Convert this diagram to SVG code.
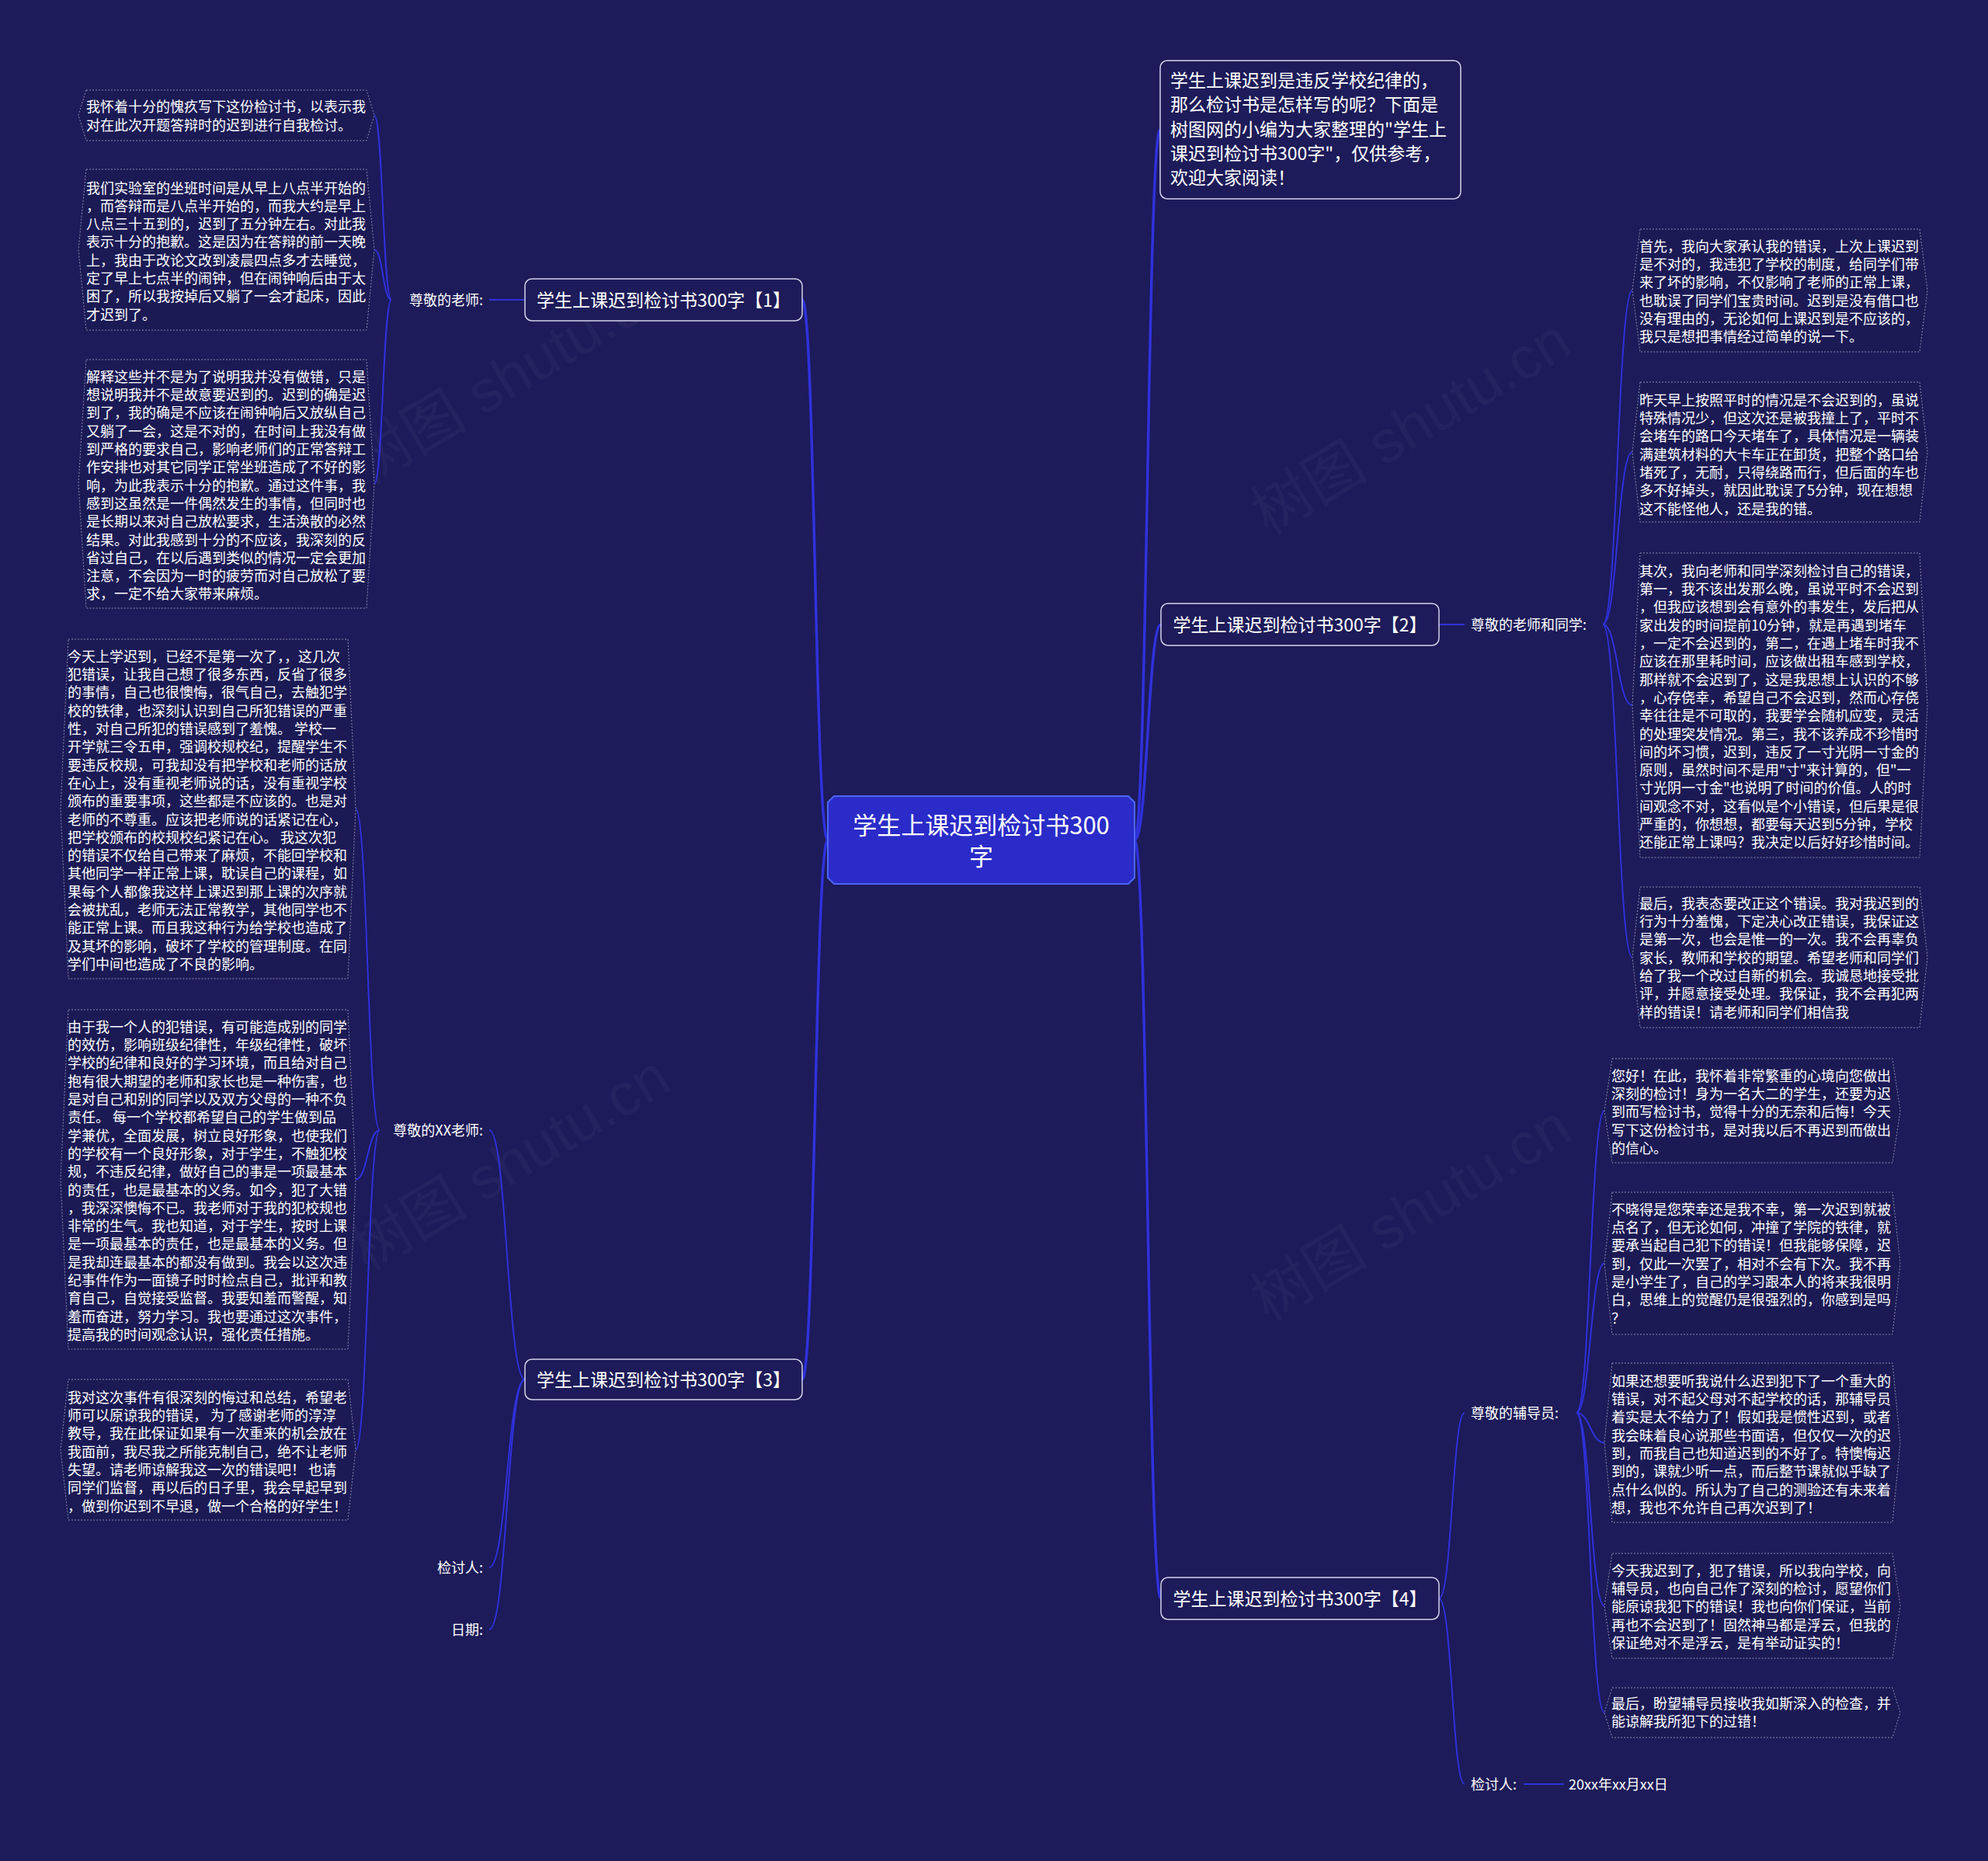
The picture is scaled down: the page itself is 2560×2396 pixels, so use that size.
<svg xmlns="http://www.w3.org/2000/svg" width="2560" height="2396" viewBox="0 0 2560 2396">
<defs>
<style>
.bg{fill:#1d1b59}
.wm{font-family:"Liberation Sans","Noto Sans CJK SC",sans-serif;font-size:76px;fill:#ffffff;fill-opacity:0.04}
.t{font-family:"Noto Sans CJK SC","Noto Sans",sans-serif;fill:#ffffff}
.leaf{fill:#1b1a55;stroke:#8c8cb0;stroke-width:1;stroke-dasharray:2 2}
.lt{font-size:18px}
.lbl{font-size:18px}
.topic{fill:#1d1b59;stroke:#d4d4ec;stroke-width:1.5}
.tt{font-size:23px}
.root{fill:#2a2bc8;stroke:#4d66f5;stroke-width:2}
.rt{font-size:31px}
.c0{fill:none;stroke:#2f31dc;stroke-width:3.5}
.c1{fill:none;stroke:#2f31dc;stroke-width:2}
</style>
</defs>
<rect class="bg" x="0" y="0" width="2560" height="2396"/>
<g id="watermarks">
<text class="wm" transform="translate(473,625) rotate(-31)">树图 shutu.cn</text>
<text class="wm" transform="translate(1633,690) rotate(-31)">树图 shutu.cn</text>
<text class="wm" transform="translate(473,1638) rotate(-31)">树图 shutu.cn</text>
<text class="wm" transform="translate(1633,1702) rotate(-31)">树图 shutu.cn</text>
</g>
<g id="connectors">
<path class="c0" d="M1066,1081.5 C1049.5,1081.5 1049.5,386 1033,386"/>
<path class="c0" d="M1066,1081.5 C1049.5,1081.5 1049.5,1776 1033,1776"/>
<path class="c0" d="M1461,1081.5 C1477.5,1081.5 1477.5,167 1494,167"/>
<path class="c0" d="M1461,1081.5 C1478,1081.5 1478,804 1495,804"/>
<path class="c0" d="M1461,1081.5 C1478,1081.5 1478,2058 1495,2058"/>
<path class="c1" d="M676,386 L630,386"/>
<path class="c1" d="M504,386 C493,386 493,148.5 482,148.5"/>
<path class="c1" d="M504,386 C493,386 493,321.5 482,321.5"/>
<path class="c1" d="M504,386 C493,386 493,623 482,623"/>
<path class="c1" d="M676,1776 C653,1776 653,1455 630,1455"/>
<path class="c1" d="M676,1776 C653,1776 653,2018 630,2018"/>
<path class="c1" d="M676,1776 C653,1776 653,2098 630,2098"/>
<path class="c1" d="M489,1455 C473.5,1455 473.5,1041.5 458,1041.5"/>
<path class="c1" d="M489,1455 C473.5,1455 473.5,1518.5 458,1518.5"/>
<path class="c1" d="M489,1455 C473.5,1455 473.5,1866.5 458,1866.5"/>
<path class="c1" d="M1853,804 L1886,804"/>
<path class="c1" d="M2064,804 C2083,804 2083,374 2102,374"/>
<path class="c1" d="M2064,804 C2083,804 2083,582 2102,582"/>
<path class="c1" d="M2064,804 C2083,804 2083,908 2102,908"/>
<path class="c1" d="M2064,804 C2083,804 2083,1232.5 2102,1232.5"/>
<path class="c1" d="M1853,2058 C1870,2058 1870,1819 1886,1819"/>
<path class="c1" d="M1853,2058 C1870,2058 1870,2297 1886,2297"/>
<path class="c1" d="M2030,1819 C2048,1819 2048,1430 2066,1430"/>
<path class="c1" d="M2030,1819 C2048,1819 2048,1626.5 2066,1626.5"/>
<path class="c1" d="M2030,1819 C2048,1819 2048,1857.5 2066,1857.5"/>
<path class="c1" d="M2030,1819 C2048,1819 2048,2067.5 2066,2067.5"/>
<path class="c1" d="M2030,1819 C2048,1819 2048,2205 2066,2205"/>
<path class="c1" d="M1962,2297 L2014,2297"/>
</g>
<g id="root">
<path class="root" d="M1074,1025 H1453 L1461,1033 V1130 L1453,1138 H1074 L1066,1130 V1033 Z"/>
<text class="t rt" text-anchor="middle"><tspan x="1263.5" y="1073.8">学生上课迟到检讨书300</tspan><tspan x="1263.5" y="1113.8">字</tspan></text>
</g>
<g id="intro">
<rect class="topic" x="1494" y="78" width="387" height="178" rx="9"/>
<text class="t tt"><tspan x="1507" y="111.7">学生上课迟到是违反学校纪律的，</tspan><tspan x="1507" y="143.1">那么检讨书是怎样写的呢？下面是</tspan><tspan x="1507" y="174.5">树图网的小编为大家整理的"学生上</tspan><tspan x="1507" y="205.9">课迟到检讨书300字"，仅供参考，</tspan><tspan x="1507" y="237.3">欢迎大家阅读！</tspan></text>
</g>
<g id="topic1">
<rect class="topic" x="676" y="359" width="357" height="54" rx="9"/>
<text class="t tt" x="854.5" y="394.7" text-anchor="middle">学生上课迟到检讨书300字【1】</text>
</g>
<g id="topic2">
<rect class="topic" x="1495" y="777" width="358" height="54" rx="9"/>
<text class="t tt" x="1674" y="812.7" text-anchor="middle">学生上课迟到检讨书300字【2】</text>
</g>
<g id="topic3">
<rect class="topic" x="676" y="1750" width="357" height="52" rx="9"/>
<text class="t tt" x="854.5" y="1784.7" text-anchor="middle">学生上课迟到检讨书300字【3】</text>
</g>
<g id="topic4">
<rect class="topic" x="1495" y="2031" width="358" height="54" rx="9"/>
<text class="t tt" x="1674" y="2066.7" text-anchor="middle">学生上课迟到检讨书300字【4】</text>
</g>
<g id="label-teacher">
<text class="t lbl" x="622" y="392.8" text-anchor="end">尊敬的老师:</text>
</g>
<g id="label-xx-teacher">
<text class="t lbl" x="622" y="1461.8" text-anchor="end">尊敬的XX老师:</text>
</g>
<g id="label-reviewer-left">
<text class="t lbl" x="622" y="2024.8" text-anchor="end">检讨人:</text>
</g>
<g id="label-date">
<text class="t lbl" x="622" y="2104.8" text-anchor="end">日期:</text>
</g>
<g id="label-teachers-classmates">
<text class="t lbl" x="1894" y="810.8">尊敬的老师和同学:</text>
</g>
<g id="label-counselor">
<text class="t lbl" x="1894" y="1825.8">尊敬的辅导员:</text>
</g>
<g id="label-reviewer-right">
<text class="t lbl" x="1894" y="2303.8">检讨人:</text>
</g>
<g id="label-date-value">
<text class="t lbl" x="2020" y="2303.8">20xx年xx月xx日</text>
</g>
<g id="leaf-l1a">
<path class="leaf" d="M111,116 H472 L482,148.5 L472,181 H111 L101,148.5 Z"/>
<text class="t lt"><tspan x="111" y="144.3">我怀着十分的愧疚写下这份检讨书，以表示我</tspan><tspan x="111" y="167.6">对在此次开题答辩时的迟到进行自我检讨。</tspan></text>
</g>
<g id="leaf-l1b">
<path class="leaf" d="M111,218 H472 L482,321.5 L472,425 H111 L101,321.5 Z"/>
<text class="t lt"><tspan x="111" y="248.5">我们实验室的坐班时间是从早上八点半开始的</tspan><tspan x="111" dy="23.3">，而答辩而是八点半开始的，而我大约是早上</tspan><tspan x="111" dy="23.3">八点三十五到的，迟到了五分钟左右。对此我</tspan><tspan x="111" dy="23.3">表示十分的抱歉。这是因为在答辩的前一天晚</tspan><tspan x="111" dy="23.3">上，我由于改论文改到凌晨四点多才去睡觉，</tspan><tspan x="111" dy="23.3">定了早上七点半的闹钟，但在闹钟响后由于太</tspan><tspan x="111" dy="23.3">困了，所以我按掉后又躺了一会才起床，因此</tspan><tspan x="111" dy="23.3">才迟到了。</tspan></text>
</g>
<g id="leaf-l1c">
<path class="leaf" d="M111,463 H472 L482,623 L472,783 H111 L101,623 Z"/>
<text class="t lt"><tspan x="111" y="491.8">解释这些并不是为了说明我并没有做错，只是</tspan><tspan x="111" dy="23.3">想说明我并不是故意要迟到的。迟到的确是迟</tspan><tspan x="111" dy="23.3">到了，我的确是不应该在闹钟响后又放纵自己</tspan><tspan x="111" dy="23.3">又躺了一会，这是不对的，在时间上我没有做</tspan><tspan x="111" dy="23.3">到严格的要求自己，影响老师们的正常答辩工</tspan><tspan x="111" dy="23.3">作安排也对其它同学正常坐班造成了不好的影</tspan><tspan x="111" dy="23.3">响，为此我表示十分的抱歉。通过这件事，我</tspan><tspan x="111" dy="23.3">感到这虽然是一件偶然发生的事情，但同时也</tspan><tspan x="111" dy="23.3">是长期以来对自己放松要求，生活涣散的必然</tspan><tspan x="111" dy="23.3">结果。对此我感到十分的不应该，我深刻的反</tspan><tspan x="111" dy="23.3">省过自己，在以后遇到类似的情况一定会更加</tspan><tspan x="111" dy="23.3">注意，不会因为一时的疲劳而对自己放松了要</tspan><tspan x="111" dy="23.3">求，一定不给大家带来麻烦。</tspan></text>
</g>
<g id="leaf-l2a">
<path class="leaf" d="M88,823 H448 L458,1041.5 L448,1260 H88 L78,1041.5 Z"/>
<text class="t lt"><tspan x="87" y="851.8">今天上学迟到，已经不是第一次了，，这几次</tspan><tspan x="87" dy="23.3">犯错误，让我自己想了很多东西，反省了很多</tspan><tspan x="87" dy="23.3">的事情，自己也很懊悔，很气自己，去触犯学</tspan><tspan x="87" dy="23.3">校的铁律，也深刻认识到自己所犯错误的严重</tspan><tspan x="87" dy="23.3">性，对自己所犯的错误感到了羞愧。 学校一</tspan><tspan x="87" dy="23.3">开学就三令五申，强调校规校纪，提醒学生不</tspan><tspan x="87" dy="23.3">要违反校规，可我却没有把学校和老师的话放</tspan><tspan x="87" dy="23.3">在心上，没有重视老师说的话，没有重视学校</tspan><tspan x="87" dy="23.3">颁布的重要事项，这些都是不应该的。也是对</tspan><tspan x="87" dy="23.3">老师的不尊重。应该把老师说的话紧记在心，</tspan><tspan x="87" dy="23.3">把学校颁布的校规校纪紧记在心。 我这次犯</tspan><tspan x="87" dy="23.3">的错误不仅给自己带来了麻烦，不能回学校和</tspan><tspan x="87" dy="23.3">其他同学一样正常上课，耽误自己的课程，如</tspan><tspan x="87" dy="23.3">果每个人都像我这样上课迟到那上课的次序就</tspan><tspan x="87" dy="23.3">会被扰乱，老师无法正常教学，其他同学也不</tspan><tspan x="87" dy="23.3">能正常上课。而且我这种行为给学校也造成了</tspan><tspan x="87" dy="23.3">及其坏的影响，破坏了学校的管理制度。在同</tspan><tspan x="87" dy="23.3">学们中间也造成了不良的影响。</tspan></text>
</g>
<g id="leaf-l2b">
<path class="leaf" d="M88,1300 H448 L458,1518.5 L448,1737 H88 L78,1518.5 Z"/>
<text class="t lt"><tspan x="87" y="1328.8">由于我一个人的犯错误，有可能造成别的同学</tspan><tspan x="87" dy="23.3">的效仿，影响班级纪律性，年级纪律性，破坏</tspan><tspan x="87" dy="23.3">学校的纪律和良好的学习环境，而且给对自己</tspan><tspan x="87" dy="23.3">抱有很大期望的老师和家长也是一种伤害，也</tspan><tspan x="87" dy="23.3">是对自己和别的同学以及双方父母的一种不负</tspan><tspan x="87" dy="23.3">责任。 每一个学校都希望自己的学生做到品</tspan><tspan x="87" dy="23.3">学兼优，全面发展，树立良好形象，也使我们</tspan><tspan x="87" dy="23.3">的学校有一个良好形象，对于学生，不触犯校</tspan><tspan x="87" dy="23.3">规，不违反纪律，做好自己的事是一项最基本</tspan><tspan x="87" dy="23.3">的责任，也是最基本的义务。如今，犯了大错</tspan><tspan x="87" dy="23.3">，我深深懊悔不已。我老师对于我的犯校规也</tspan><tspan x="87" dy="23.3">非常的生气。我也知道，对于学生，按时上课</tspan><tspan x="87" dy="23.3">是一项最基本的责任，也是最基本的义务。但</tspan><tspan x="87" dy="23.3">是我却连最基本的都没有做到。我会以这次违</tspan><tspan x="87" dy="23.3">纪事件作为一面镜子时时检点自己，批评和教</tspan><tspan x="87" dy="23.3">育自己，自觉接受监督。我要知羞而警醒，知</tspan><tspan x="87" dy="23.3">羞而奋进，努力学习。我也要通过这次事件，</tspan><tspan x="87" dy="23.3">提高我的时间观念认识，强化责任措施。</tspan></text>
</g>
<g id="leaf-l2c">
<path class="leaf" d="M88,1776 H448 L458,1866.5 L448,1957 H88 L78,1866.5 Z"/>
<text class="t lt"><tspan x="87" y="1805.8">我对这次事件有很深刻的悔过和总结，希望老</tspan><tspan x="87" dy="23.3">师可以原谅我的错误， 为了感谢老师的淳淳</tspan><tspan x="87" dy="23.3">教导，我在此保证如果有一次重来的机会放在</tspan><tspan x="87" dy="23.3">我面前，我尽我之所能克制自己，绝不让老师</tspan><tspan x="87" dy="23.3">失望。请老师谅解我这一次的错误吧！ 也请</tspan><tspan x="87" dy="23.3">同学们监督，再以后的日子里，我会早起早到</tspan><tspan x="87" dy="23.3">，做到你迟到不早退，做一个合格的好学生！</tspan></text>
</g>
<g id="leaf-r1a">
<path class="leaf" d="M2112,295 H2472 L2482,374 L2472,453 H2112 L2102,374 Z"/>
<text class="t lt"><tspan x="2111" y="323.8">首先，我向大家承认我的错误，上次上课迟到</tspan><tspan x="2111" dy="23.3">是不对的，我违犯了学校的制度，给同学们带</tspan><tspan x="2111" dy="23.3">来了坏的影响，不仅影响了老师的正常上课，</tspan><tspan x="2111" dy="23.3">也耽误了同学们宝贵时间。迟到是没有借口也</tspan><tspan x="2111" dy="23.3">没有理由的，无论如何上课迟到是不应该的，</tspan><tspan x="2111" dy="23.3">我只是想把事情经过简单的说一下。</tspan></text>
</g>
<g id="leaf-r1b">
<path class="leaf" d="M2112,492 H2472 L2482,582 L2472,672 H2112 L2102,582 Z"/>
<text class="t lt"><tspan x="2111" y="521.8">昨天早上按照平时的情况是不会迟到的，虽说</tspan><tspan x="2111" dy="23.3">特殊情况少，但这次还是被我撞上了，平时不</tspan><tspan x="2111" dy="23.3">会堵车的路口今天堵车了，具体情况是一辆装</tspan><tspan x="2111" dy="23.3">满建筑材料的大卡车正在卸货，把整个路口给</tspan><tspan x="2111" dy="23.3">堵死了，无耐，只得绕路而行，但后面的车也</tspan><tspan x="2111" dy="23.3">多不好掉头，就因此耽误了5分钟，现在想想</tspan><tspan x="2111" dy="23.3">这不能怪他人，还是我的错。</tspan></text>
</g>
<g id="leaf-r1c">
<path class="leaf" d="M2112,712 H2472 L2482,908 L2472,1104 H2112 L2102,908 Z"/>
<text class="t lt"><tspan x="2111" y="741.8">其次，我向老师和同学深刻检讨自己的错误，</tspan><tspan x="2111" dy="23.3">第一，我不该出发那么晚，虽说平时不会迟到</tspan><tspan x="2111" dy="23.3">，但我应该想到会有意外的事发生，发后把从</tspan><tspan x="2111" dy="23.3">家出发的时间提前10分钟，就是再遇到堵车</tspan><tspan x="2111" dy="23.3">，一定不会迟到的，第二，在遇上堵车时我不</tspan><tspan x="2111" dy="23.3">应该在那里耗时间，应该做出租车感到学校，</tspan><tspan x="2111" dy="23.3">那样就不会迟到了，这是我思想上认识的不够</tspan><tspan x="2111" dy="23.3">，心存侥幸，希望自己不会迟到，然而心存侥</tspan><tspan x="2111" dy="23.3">幸往往是不可取的，我要学会随机应变，灵活</tspan><tspan x="2111" dy="23.3">的处理突发情况。第三，我不该养成不珍惜时</tspan><tspan x="2111" dy="23.3">间的坏习惯，迟到，违反了一寸光阴一寸金的</tspan><tspan x="2111" dy="23.3">原则，虽然时间不是用"寸"来计算的，但"一</tspan><tspan x="2111" dy="23.3">寸光阴一寸金"也说明了时间的价值。人的时</tspan><tspan x="2111" dy="23.3">间观念不对，这看似是个小错误，但后果是很</tspan><tspan x="2111" dy="23.3">严重的，你想想，都要每天迟到5分钟，学校</tspan><tspan x="2111" dy="23.3">还能正常上课吗？我决定以后好好珍惜时间。</tspan></text>
</g>
<g id="leaf-r1d">
<path class="leaf" d="M2112,1142 H2472 L2482,1232.5 L2472,1323 H2112 L2102,1232.5 Z"/>
<text class="t lt"><tspan x="2111" y="1169.8">最后，我表态要改正这个错误。我对我迟到的</tspan><tspan x="2111" dy="23.3">行为十分羞愧，下定决心改正错误，我保证这</tspan><tspan x="2111" dy="23.3">是第一次，也会是惟一的一次。我不会再辜负</tspan><tspan x="2111" dy="23.3">家长，教师和学校的期望。希望老师和同学们</tspan><tspan x="2111" dy="23.3">给了我一个改过自新的机会。我诚恳地接受批</tspan><tspan x="2111" dy="23.3">评，并愿意接受处理。我保证，我不会再犯两</tspan><tspan x="2111" dy="23.3">样的错误！请老师和同学们相信我</tspan></text>
</g>
<g id="leaf-r2a">
<path class="leaf" d="M2076,1363 H2437 L2447,1430 L2437,1497 H2076 L2066,1430 Z"/>
<text class="t lt"><tspan x="2075" y="1391.8">您好！在此，我怀着非常繁重的心境向您做出</tspan><tspan x="2075" dy="23.3">深刻的检讨！身为一名大二的学生，还要为迟</tspan><tspan x="2075" dy="23.3">到而写检讨书，觉得十分的无奈和后悔！今天</tspan><tspan x="2075" dy="23.3">写下这份检讨书，是对我以后不再迟到而做出</tspan><tspan x="2075" dy="23.3">的信心。</tspan></text>
</g>
<g id="leaf-r2b">
<path class="leaf" d="M2076,1535 H2437 L2447,1626.5 L2437,1718 H2076 L2066,1626.5 Z"/>
<text class="t lt"><tspan x="2075" y="1563.8">不晓得是您荣幸还是我不幸，第一次迟到就被</tspan><tspan x="2075" dy="23.3">点名了，但无论如何，冲撞了学院的铁律，就</tspan><tspan x="2075" dy="23.3">要承当起自己犯下的错误！但我能够保障，迟</tspan><tspan x="2075" dy="23.3">到，仅此一次罢了，相对不会有下次。我不再</tspan><tspan x="2075" dy="23.3">是小学生了，自己的学习跟本人的将来我很明</tspan><tspan x="2075" dy="23.3">白，思维上的觉醒仍是很强烈的，你感到是吗</tspan><tspan x="2075" dy="23.3">？</tspan></text>
</g>
<g id="leaf-r2c">
<path class="leaf" d="M2076,1755 H2437 L2447,1857.5 L2437,1960 H2076 L2066,1857.5 Z"/>
<text class="t lt"><tspan x="2075" y="1784.8">如果还想要听我说什么迟到犯下了一个重大的</tspan><tspan x="2075" dy="23.3">错误，对不起父母对不起学校的话，那辅导员</tspan><tspan x="2075" dy="23.3">着实是太不给力了！假如我是惯性迟到，或者</tspan><tspan x="2075" dy="23.3">我会昧着良心说那些书面语，但仅仅一次的迟</tspan><tspan x="2075" dy="23.3">到，而我自己也知道迟到的不好了。特懊悔迟</tspan><tspan x="2075" dy="23.3">到的，课就少听一点，而后整节课就似乎缺了</tspan><tspan x="2075" dy="23.3">点什么似的。所认为了自己的测验还有未来着</tspan><tspan x="2075" dy="23.3">想，我也不允许自己再次迟到了！</tspan></text>
</g>
<g id="leaf-r2d">
<path class="leaf" d="M2076,2000 H2437 L2447,2067.5 L2437,2135 H2076 L2066,2067.5 Z"/>
<text class="t lt"><tspan x="2075" y="2028.8">今天我迟到了，犯了错误，所以我向学校，向</tspan><tspan x="2075" dy="23.3">辅导员，也向自己作了深刻的检讨，愿望你们</tspan><tspan x="2075" dy="23.3">能原谅我犯下的错误！我也向你们保证，当前</tspan><tspan x="2075" dy="23.3">再也不会迟到了！固然神马都是浮云，但我的</tspan><tspan x="2075" dy="23.3">保证绝对不是浮云，是有举动证实的！</tspan></text>
</g>
<g id="leaf-r2e">
<path class="leaf" d="M2076,2173 H2437 L2447,2205 L2437,2237 H2076 L2066,2205 Z"/>
<text class="t lt"><tspan x="2075" y="2199.8">最后，盼望辅导员接收我如斯深入的检查，并</tspan><tspan x="2075" dy="23.3">能谅解我所犯下的过错！</tspan></text>
</g>
</svg>
